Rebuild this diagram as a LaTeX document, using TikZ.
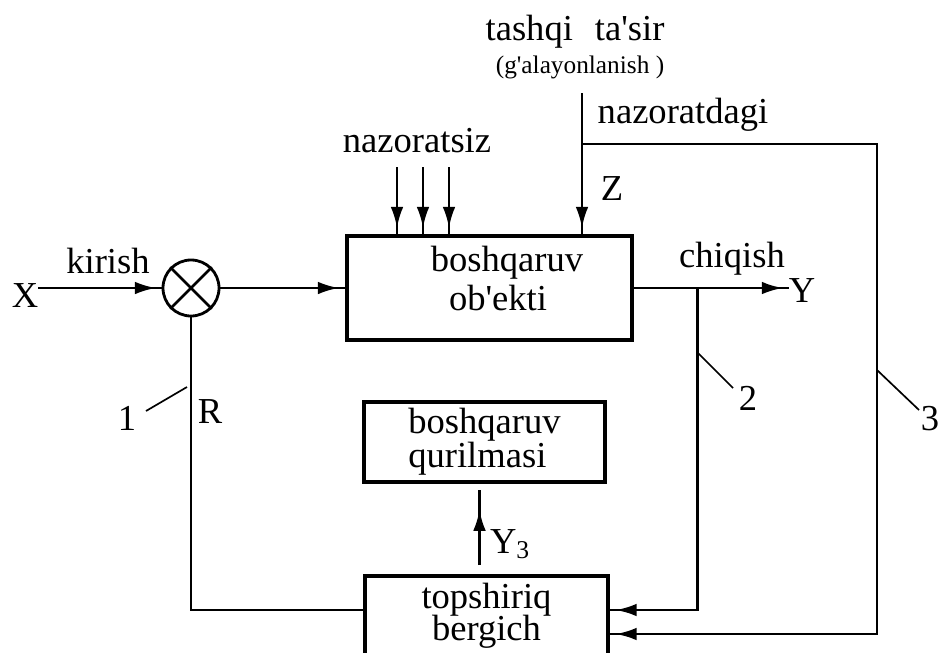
\documentclass[tikz,border=0pt]{standalone}
\usepackage{fontspec}
\setmainfont{Liberation Serif}
\usetikzlibrary{arrows.meta, positioning, calc, decorations.markings}

\begin{document}
\begin{tikzpicture}[x=0.025cm, y=-0.025cm,
    font=\fontsize{26}{28}\selectfont,
    block/.style={draw, line width=2.8pt, inner sep=0pt},
    wire/.style={line width=2pt},
    flow/.style={wire, postaction={decorate}, decoration={markings,
        mark=at position #1 with {\arrow{Latex[length=15pt, width=9pt]}}}},
    flow/.default=-4pt,
    leader/.style={line width=1.2pt},
    lbl/.style={anchor=base, inner sep=0pt}]
  \useasboundingbox (0,0) rectangle (940,652);

  \node[block, line width=3.4pt, align=center, minimum width=7.125cm, minimum height=2.6cm] (obj) at (489.5,288)
    {\hspace*{0.875cm}boshqaruv\\\hspace*{0.425cm}ob\textquotesingle ekti\rule[-0.5cm]{0pt}{0pt}};
  \node[block, align=left, minimum width=6.025cm, minimum height=2cm] (qur) at (484.5,442)
    {boshqaruv\\[-4pt]qurilmasi};
  \node[block, align=center, minimum width=6.075cm, minimum height=2cm] (topsh) at (486.5,616)
    {topshiriq\\[-5pt]bergich};
  \node[draw, circle, line width=2pt, minimum size=1.4cm, inner sep=0pt] (sum) at (191,288) {};
  \draw[wire] (sum.45) -- (sum.225) (sum.135) -- (sum.-45);

  \node[lbl] (xin) at (25,307) {X};
  \node[lbl] (kirish) at (108,273) {kirish};
  \node[lbl] (yout) at (802,302) {Y};
  \node[lbl] (chiqish) at (732,267) {chiqish};
  \node[lbl] (tashqi) at (575,40) {tashqi\hspace{0.6em}ta\textquotesingle sir};
  \node[lbl, font=\fontsize{18}{20}\selectfont] (galayon) at (580,73) {(g\textquotesingle alayonlanish )};
  \node[lbl] (nazdagi) at (683,123) {nazoratdagi};
  \node[lbl] (nazsiz) at (417,152) {nazoratsiz};
  \node[lbl] (zlbl) at (612,200) {Z};
  \node[lbl] (rlbl) at (210,423) {R};
  \node[lbl] (y3) at (510,553) {Y\textsubscript{3}};
  \node[lbl] (n1) at (127,430) {1};
  \node[lbl] (n2) at (748,410) {2};
  \node[lbl] (n3) at (930,430) {3};

  \draw[flow] (xin.east |- sum.west) -- (sum.west);
  \draw[flow] (sum.east) -- (obj.west);
  \draw[flow] (obj.east) -- (obj.east -| yout.west);

  \foreach \k/\px in {1/397, 2/423, 3/449} {
    \coordinate (u\k) at (\px,167);
    \draw[flow] (u\k) -- (u\k |- obj.north);
  }

  \coordinate (ztop) at (582,93);
  \coordinate (zsplit) at (582,144);
  \coordinate (corner3) at (877,144);
  \draw[flow] (ztop) -- (ztop |- obj.north);
  \draw[flow] (zsplit) -- (corner3) |- ($(topsh.east)+(0,18)$);

  \coordinate (split2) at ($(obj.east)+(63,0)$);
  \draw[flow] (split2) |- ($(topsh.east)+(0,-6)$);

  \draw[wire] (sum.south) |- ($(topsh.west)+(0,-6)$);
  \draw[flow=-14pt] ($(topsh.north)+(-7,-9)$) -- ($(qur.south)+(-5,6)$);

  \coordinate (k1) at (187,387);
  \coordinate (k2) at (697,352);
  \coordinate (k3) at (877,370);
  \draw[leader] (k1) -- ++(-41,24);
  \draw[leader] (k2) -- ++(36,36);
  \draw[leader] (k3) -- ++(42,40);
\end{tikzpicture}
\end{document}
